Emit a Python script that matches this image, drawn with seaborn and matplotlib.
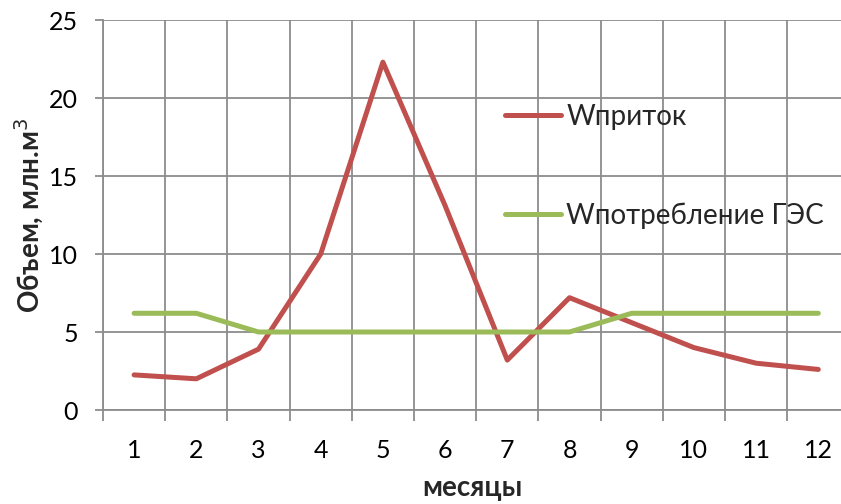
import numpy as np
import pandas as pd
import matplotlib
matplotlib.use("Agg")
import matplotlib.pyplot as plt
from matplotlib.ticker import MultipleLocator, FixedLocator
import seaborn as sns

# data
months = [1, 2, 3, 4, 5, 6, 7, 8, 9, 10, 11, 12]
w_inflow = [2.25, 2.0, 3.9, 10.0, 22.3, 13.1, 3.2, 7.2, 5.6, 4.0, 3.0, 2.6]
w_consumption = [6.2, 6.2, 5.0, 5.0, 5.0, 5.0, 5.0, 5.0, 6.2, 6.2, 6.2, 6.2]
series_names = ["Wприток", "Wпотребление ГЭС"]
series_colors = ["#C0504D", "#9BBB59"]

df = pd.DataFrame({
    "month": months * 2,
    "value": w_inflow + w_consumption,
    "series": [series_names[0]] * len(months) + [series_names[1]] * len(months),
})

sns.set_style("white")
plt.rcParams['font.family'] = ['Lato', 'DejaVu Sans']

fig = plt.figure(figsize=(8.41, 5.04), dpi=100)
ax = fig.add_axes([103 / 841, (504 - 410) / 504, (841 - 103) / 841, 390 / 504])

sns.lineplot(data=df, x="month", y="value", hue="series",
             palette=dict(zip(series_names, series_colors)),
             linewidth=3.6, ax=ax, solid_capstyle="round")

grid_color = "#8C8C8C"
ax.set_xlim(0.5, 0.5 + (841 - 103) / 62.2)
ax.set_ylim(0, 25)
ax.yaxis.set_major_locator(MultipleLocator(5))
ax.xaxis.set_major_locator(FixedLocator(months))
ax.xaxis.set_minor_locator(FixedLocator(np.arange(0.5, 13, 1)))
ax.set_xticklabels([str(m) for m in months])

ax.grid(True, axis="y", which="major", color=grid_color, linewidth=1.3)
ax.grid(True, axis="x", which="minor", color=grid_color, linewidth=1.3)
ax.set_axisbelow(True)
for s in ["top", "right"]:
    ax.spines[s].set_visible(False)
for s in ["left", "bottom"]:
    ax.spines[s].set_color(grid_color)
    ax.spines[s].set_linewidth(1.3)

ax.tick_params(axis="x", which="major", length=0, pad=21, labelsize=18, colors="black")
ax.tick_params(axis="x", which="minor", length=8, width=1.3, color=grid_color, direction="out", bottom=True)
ax.tick_params(axis="y", which="major", length=6, width=1.3, color=grid_color, direction="out", left=True,
               labelsize=18, labelcolor="black", pad=12)

ax.set_xlabel("месяцы", fontsize=20, fontweight="bold", labelpad=9)
ax.set_ylabel("Объем, млн.м$^3$", fontsize=20, fontweight="bold", labelpad=2)

ax.legend(loc="upper left", bbox_to_anchor=(505 / 841, 1 - 104 / 504), bbox_transform=fig.transFigure,
          frameon=False, fontsize=20, handlelength=2.0, handletextpad=0.2,
          labelspacing=2.6, borderpad=0, borderaxespad=0, title=None)

fig.savefig("out.png", dpi=100)
